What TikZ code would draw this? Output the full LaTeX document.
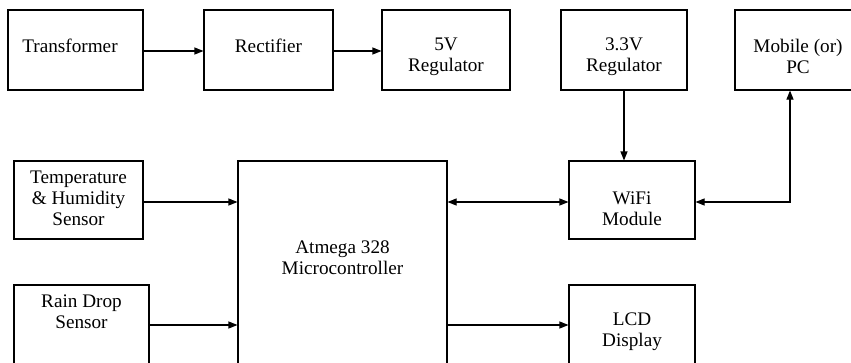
\documentclass[tikz,border=0pt]{standalone}
\usepackage{fontspec}
\setmainfont{Liberation Serif}
\usetikzlibrary{arrows.meta,calc}
\begin{document}
\begin{tikzpicture}[x=1pt,y=-1pt,
  blk/.style={draw=black,line width=1.1pt,rectangle,inner sep=0pt,minimum width=#1},
  txt/.style={align=center,font=\fontsize{19.2}{21}\selectfont,inner sep=0pt},
  conn/.style={line width=1.1pt,-{Triangle[length=9pt,width=7pt]}},
  bconn/.style={line width=1.1pt,{Triangle[length=9pt,width=7pt]}-{Triangle[length=9pt,width=7pt]}}]
\useasboundingbox (0,0) rectangle (851,362);
\clip (0,0) rectangle (851,362);
\fill[white] (0,0) rectangle (851,362);
% boxes
\node[blk=135pt,minimum height=80pt] (trans) at (75.5,50) {};
\node[blk=129pt,minimum height=80pt] (rect) at (268.5,50) {};
\node[blk=128pt,minimum height=80pt] (reg5) at (446,50) {};
\node[blk=126pt,minimum height=80pt] (reg33) at (624,50) {};
\node[blk=126pt,minimum height=80pt] (mobile) at (798,50) {};
\node[blk=129pt,minimum height=78pt] (temp) at (78.5,200) {};
\node[blk=209pt,minimum height=259pt] (micro) at (342.5,290.5) {};
\node[blk=135pt,minimum height=135pt] (rain) at (81.5,352.5) {};
\node[blk=126pt,minimum height=78pt] (wifi) at (632,200) {};
\node[blk=126pt,minimum height=135pt] (lcd) at (632,352.5) {};
% texts
\node[txt] (ttrans) at (70,46) {Transformer};
\node[txt] (trect) at (268.5,46) {Rectifier};
\node[txt] (treg5) at (446,57) {5V\\Regulator};
\node[txt] (treg33) at (624,56.5) {3.3V\\Regulator};
\node[txt] (tmobile) at (798,56) {Mobile (or)\\PC};
\node[txt] (ttemp) at (78.5,198.5) {Temperature\\\& Humidity\\Sensor};
\node[txt] (tmicro) at (342.5,257.5) {Atmega 328\\Microcontroller};
\node[txt] (train) at (81.5,311.5) {Rain Drop\\Sensor};
\node[txt] (twifi) at (632,208.5) {WiFi\\Module};
\node[txt] (tlcd) at (632,331.5) {LCD\\Display};
% connectors
\coordinate (pcturn) at (790,202);
\draw[conn] (trans.east |- 0,51) -- (rect.west |- 0,51);
\draw[conn] (rect.east |- 0,51) -- (reg5.west |- 0,51);
\draw[conn] (reg33.south) -- (reg33.south |- wifi.north);
\draw[bconn] (wifi.east |- pcturn) -- (pcturn) -- (pcturn |- mobile.south);
\draw[conn] (temp.east |- pcturn) -- (micro.west |- pcturn);
\draw[bconn] (micro.east |- pcturn) -- (wifi.west |- pcturn);
\coordinate (lowrow) at (0,325);
\draw[conn] (rain.east |- lowrow) -- (micro.west |- lowrow);
\draw[conn] (micro.east |- lowrow) -- (lcd.west |- lowrow);
\end{tikzpicture}
\end{document}
